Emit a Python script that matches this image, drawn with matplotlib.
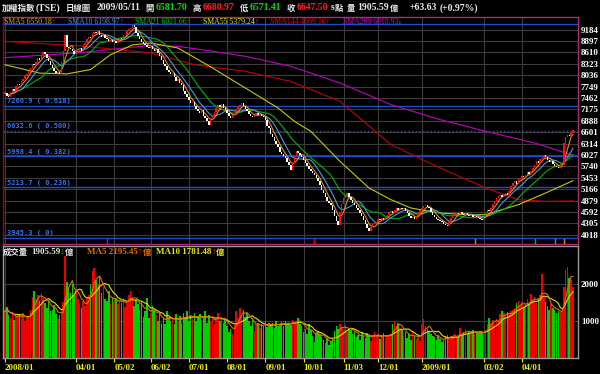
import matplotlib
matplotlib.use("Agg")
import matplotlib.pyplot as plt
import numpy as np
import pandas as pd

# daily closes (TAIEX, late Jan 2008 .. 2009/05/11)
closes = [
    7590, 7521, 7480, 7620, 7700, 7640, 7760, 7810, 7790, 7880,
    7950, 8010, 8080, 8150, 8230, 8300, 8290, 8380, 8470, 8420,
    8540, 8610, 8560, 8480, 8390, 8300, 8220, 8150, 8090, 8130,
    8060, 8380, 8640, 9050, 8760, 8720, 8700, 8640, 8560, 8600,
    8680, 8720, 8650, 8790, 8850, 8960, 9010, 8980, 9080, 9120,
    9100, 9140, 9050, 9010, 9060, 8980, 8950, 8900, 8930, 8870,
    8900, 8850, 8930, 8980, 8950, 9040, 9060, 9140, 9190, 9230,
    9295, 9240, 9100, 9020, 8960, 8880, 8820, 8790, 8740, 8720,
    8770, 8700, 8650, 8690, 8600, 8520, 8410, 8330, 8260, 8180,
    8130, 8060, 8090, 7980, 7900, 7940, 7850, 7790, 7630, 7560,
    7480, 7400, 7330, 7360, 7250, 7190, 7130, 7080, 7150, 7020,
    6950, 6880, 6790, 6960, 7040, 7120, 7200, 7280, 7240, 7310,
    7220, 7150, 7080, 7010, 6960, 7030, 7090, 7190, 7260, 7290,
    7330, 7250, 7180, 7130, 7050, 7000, 6980, 7040, 7080, 7030,
    7060, 7000, 6980, 6900, 6760, 6700, 6560, 6480, 6390, 6300,
    6230, 6110, 6060, 5990, 5950, 5860, 5780, 5640, 5830, 6000,
    6120, 6080, 6035, 5970, 5890, 5820, 5740, 5680, 5615, 5580,
    5530, 5440, 5360, 5280, 5150, 5060, 4960, 4870, 4820, 4775,
    4640, 4500, 4360, 4270, 4600, 4780, 4943, 5000, 5069, 4980,
    4900, 4820, 4775, 4690, 4650, 4560, 4480, 4400, 4300, 4180,
    4110, 4220, 4280, 4300, 4350, 4420, 4380, 4440, 4390, 4460,
    4520, 4580, 4607, 4560, 4640, 4690, 4650, 4700, 4660, 4690,
    4620, 4560, 4500, 4440, 4470, 4420, 4480, 4560, 4650, 4700,
    4740, 4775, 4720, 4690, 4600, 4523, 4470, 4420, 4380, 4355,
    4340, 4300, 4260, 4229, 4330, 4440, 4480, 4530, 4565, 4540,
    4580, 4550, 4520, 4560, 4523, 4490, 4510, 4470, 4500, 4460,
    4440, 4420, 4400, 4460, 4560, 4650, 4620, 4680, 4780, 4860,
    4943, 4990, 5030, 4980, 5050, 5069, 5020, 5130, 5250, 5320,
    5362, 5290, 5420, 5447, 5500, 5460, 5530, 5600, 5560, 5615,
    5700, 5780, 5867, 5830, 5920, 5960, 6035, 5980, 5900, 5850,
    5880, 5800, 5760, 5720, 5690, 5740, 5769, 6320, 6482, 6525,
    6512.6, 6583.87, 6647.50,
]

# daily volume (億)
volumes = [
    1250, 1380, 1150, 1080, 1200, 1020, 1100, 1180,
    1150, 1050, 1220, 1000, 1120, 1080, 1300,
    1650, 1800, 1580, 1700, 1530, 1760, 1620,
    1480, 1350, 1530, 1260, 1300, 1420, 1180,
    1050, 1150, 1250, 1500, 2750,
    2050, 1900, 1750, 1980, 1700, 1850,
    1600, 1450, 1330, 1520, 1400, 1650,
    1700, 2000, 2340, 2430, 2100, 1980, 2200,
    1750, 1900, 1600, 1540, 1800, 1450, 1650,
    1500, 1600, 1440, 1550, 1480, 1620, 1380, 1520,
    1700, 1800, 1650, 1400, 1550,
    1450, 1300, 1530, 1100, 1250, 1620, 1080, 1200,
    1400, 1300,
    1150, 1000, 1200, 950, 1080, 900, 1250, 1100, 980, 1050, 920, 1180, 1000, 1120, 940,
    1200, 1100, 1260, 990, 1150, 1050, 1220, 1000, 1100, 1180, 1030,
    1080, 1260, 950, 1150, 1000, 1120, 900, 1060, 1200, 980, 1100, 940, 1050,
    850, 700, 780, 650, 900,
    1250, 1080, 1350, 1150, 1300, 1100, 1200,
    1000, 850, 1080, 720, 900, 950, 800,
    900, 850, 990, 820, 950, 880, 930, 810, 990, 870, 920, 960, 850, 1000, 900, 950, 880, 1020, 940,
    1000, 1080, 920,
    850, 700, 780, 630, 900, 750, 600, 420, 680, 720, 650,
    550, 480, 400, 520, 350, 450, 500,
    720, 850, 780, 900, 820, 750, 880, 700, 800, 760,
    650, 700, 550, 620, 480, 700, 600, 520, 680, 580, 450,
    620, 700, 560, 640, 500, 600, 680, 540, 620, 580, 650,
    900, 990, 850, 950, 810,
    750, 600, 700, 520, 650, 480, 720, 580, 500, 620, 450,
    900, 1040, 850, 780, 700, 650,
    600, 550, 480, 620, 500,
    420, 480,
    580, 620, 540, 600, 560, 630, 590, 550, 810, 620,
    700, 765, 650, 720, 680, 740, 630, 700, 660, 720, 690, 640, 750,
    900, 1080, 950, 1020, 920, 1050, 980,
    1170, 1260, 1200, 1100, 1230, 1180, 1260, 1300,
    1350, 1480, 1530, 1400, 1500, 1380, 1450,
    1600, 1450, 1710, 1550, 1650, 1480, 1600,
    1700, 2262, 1650, 1500,
    1400, 1300, 1440, 1350, 1280,
    1220, 1250, 1230, 1238, 1900,
    2381.66, 2450, 2150, 2090, 1905.59,
]

# long moving averages, sampled off the chart (bar index, value)
sma55_i = [0, 19, 34, 47, 58, 70, 80, 95, 114, 132, 150, 159, 168, 184, 200, 212, 223, 239, 254, 264, 282, 297, 312]
sma55_v = [8300, 8090, 8070, 8180, 8555, 8800, 8850, 8723, 8219, 7715, 7211, 6875, 6623, 5867, 5195, 4901, 4691, 4565, 4523, 4523, 4775, 5069, 5379]
sma144_i = [0, 40, 80, 104, 132, 157, 184, 212, 239, 264, 282, 297, 312]
sma144_v = [8890, 8780, 8600, 8300, 8135, 7880, 7379, 6287, 5699, 5195, 4901, 4859, 4869]
sma260_i = [0, 40, 80, 95, 114, 132, 157, 184, 212, 239, 264, 291, 312]
sma260_v = [8480, 8600, 8790, 8765, 8640, 8513, 8261, 7841, 7295, 6917, 6623, 6329, 6019]

fib_levels = [3945.3, 5213.7, 5998.4, 6632.6, 7266.9, 9320.1]
fib_labels = ['3945.3 ( 0)', '5213.7 ( 0.236)', '5998.4 ( 0.382)', '6632.6 ( 0.500)', '7266.9 ( 0.618)', '']

price_ticks = [9184, 8897, 8610, 8323, 8036, 7749, 7462, 7175, 6888, 6601,
               6314, 6027, 5740, 5453, 5166, 4879, 4592, 4305, 4018]
vol_ticks = [1000, 2000]

date_idx = [0, 39, 60, 80, 101, 122, 143, 164, 186, 205, 229, 263, 284]
date_lbl = ['2008/01', '04/01', '05/02', '06/02', '07/01', '08/01', '09/01',
            '10/01', '11/03', '12/01', '2009/01', '03/02', '04/01']

signal_idx = [56, 170, 258, 291, 302, 307]
signal_col = ['#c000c0', '#e00000', '#e08000', '#00c000', '#4090e0', '#e08000']

SERIF = ['Liberation Serif', 'Noto Sans CJK TC', 'DejaVu Sans']
CJK = ['Noto Sans CJK TC', 'DejaVu Sans']
W = '#e8e8e8'
GRID = '#3c3c3c'

c = np.array(closes, dtype=float)
o = np.r_[c[0], c[:-1]]
up = c >= o
idx = np.arange(len(c))
v = np.array(volumes, dtype=float)
vidx = np.arange(len(v))

fig = plt.figure(figsize=(6, 3.74), dpi=100, facecolor='black')
ax1 = fig.add_axes([3/600, 1-244/374, 575/600, 227/374], facecolor='black')
ax2 = fig.add_axes([3/600, 1-358/374, 575/600, 112/374], facecolor='black')

# price panel
for ax in (ax1, ax2):
    ax.set_xlim(-1.1, 314.8)
    for x in date_idx:
        ax.axvline(x, color=GRID, lw=0.8, zorder=0)
ax1.set_ylim(3784, 9504)
for p in price_ticks:
    ax1.axhline(p, color=GRID, lw=0.8, zorder=0)
for lv, lb in zip(fib_levels, fib_labels):
    ls = ':' if lb.endswith('0.500)') else '-'
    ax1.axhline(lv, color='#1f4fc8', lw=1.0, ls=ls, zorder=1)
    if lb:
        ax1.text(1, lv + 40, lb, color='#3a70e8', fontsize=5, family='DejaVu Sans Mono',
                 fontweight='bold', va='bottom', ha='left', zorder=2)

ser = pd.Series(c)
ax1.plot(sma260_i, sma260_v, color='#c000c0', lw=0.8, zorder=3)
ax1.plot(sma144_i, sma144_v, color='#c00000', lw=0.8, zorder=3)
ax1.plot(sma55_i, sma55_v, color='#c8c800', lw=0.8, zorder=3)
ax1.plot(idx, ser.rolling(21, min_periods=1).mean(), color='#00b000', lw=0.8, zorder=3)
ax1.plot(idx, ser.rolling(10, min_periods=1).mean(), color='#4a9ad8', lw=0.8, zorder=3)
ax1.plot(idx, ser.rolling(5, min_periods=1).mean(), color='#e08a20', lw=0.8, zorder=3)

body = np.maximum(np.abs(c - o), 22)
ax1.bar(idx, body, bottom=np.minimum(o, c), width=0.8,
        color=np.where(up, '#ff1010', '#ffffff'), linewidth=0, zorder=4)

for i, col in zip(signal_idx, signal_col):
    ax1.plot([i, i], [3800, 3900], color=col, lw=1.0, zorder=5)

# volume panel
ax2.set_ylim(-8, 3019)
for t in vol_ticks:
    ax2.axhline(t, color=GRID, lw=0.8, zorder=0)
vcol = np.where(up[:len(v)], '#f00000', '#00d000')
ax2.bar(vidx, v, width=0.85, color=vcol, linewidth=0, zorder=2)
vs = pd.Series(v)
ax2.plot(vidx, vs.rolling(10, min_periods=1).mean(), color='#e0e000', lw=0.8, zorder=3)
ax2.plot(vidx, vs.rolling(5, min_periods=1).mean(), color='#e07000', lw=0.8, zorder=3)

# axes decoration
for ax, sc in ((ax1, '#a8306e'), (ax2, '#9a9a9a')):
    for s in ax.spines.values():
        s.set_color(sc)
        s.set_linewidth(1.0)
ax1.spines['left'].set_color('#8a1010')
ax1.yaxis.tick_right()
ax1.set_yticks(price_ticks)
ax1.set_yticklabels([str(p) for p in price_ticks])
ax1.tick_params(axis='y', length=0, pad=2, labelsize=6.5, colors='white')
ax1.set_xticks([])
for lab in ax1.get_yticklabels():
    lab.set_family(SERIF)
    lab.set_fontweight('bold')

ax2.yaxis.tick_right()
ax2.set_yticks(vol_ticks)
ax2.set_yticklabels([str(t) for t in vol_ticks])
ax2.tick_params(axis='y', length=0, pad=2, labelsize=6.5, colors='white')
ax2.set_xticks(date_idx)
ax2.set_xticklabels(date_lbl, ha='left')
ax2.tick_params(axis='x', length=3, pad=1, labelsize=6.5, colors='#f0f000', direction='out')
for lab in ax2.get_yticklabels() + ax2.get_xticklabels():
    lab.set_family(SERIF)
    lab.set_fontweight('bold')


def chain(px, py, parts, ax):
    # lay text pieces side by side, each after the previous one
    prev = None
    for s, col, fam, fs, gap in parts:
        if prev is None:
            prev = fig.text(px / 600, 1 - py / 374, s, color=col, family=fam, fontsize=fs,
                            fontweight='bold', va='center', ha='left')
        else:
            prev = ax.annotate(s, xy=(1, 0.5), xycoords=prev, xytext=(gap, 0),
                               textcoords='offset points', color=col, family=fam,
                               fontsize=fs, fontweight='bold', va='center', ha='left',
                               annotation_clip=False)


# title row
NUM, HAN = 7, 6
chain(2, 8, [
    ('加權指數', W, CJK, HAN, 0),
    ('(TSE)', W, SERIF, NUM, 0),
    ('日線圖', W, CJK, HAN, 4),
    ('2009/05/11', W, SERIF, NUM, 4),
    ('開', W, CJK, HAN, 4),
    ('6581.70', '#00e000', SERIF, NUM, 1),
    ('高', W, CJK, HAN, 4),
    ('6680.97', '#ff2020', SERIF, NUM, 1),
    ('低', W, CJK, HAN, 4),
    ('6571.41', '#00e000', SERIF, NUM, 1),
    ('收', W, CJK, HAN, 4),
    ('6647.50', '#ff2020', SERIF, NUM, 1),
    ('s', W, SERIF, NUM, 2),
    ('點', W, CJK, HAN, 0),
    ('量', W, CJK, HAN, 3),
    ('1905.59', W, SERIF, NUM, 1),
    ('億', W, CJK, HAN, 1),
    ('+63.63', W, SERIF, NUM, 8),
    ('(+0.97%)', W, SERIF, NUM, 2),
], ax1)

# moving average legend
legend = [
    (4, 'SMA5 6550.18', '#e0a000', '↑', '#ff2020'),
    (68, 'SMA10 6198.97', '#4a88e0', '↑', '#ff2020'),
    (135, 'SMA21 6021.66', '#00c800', '↑', '#ff2020'),
    (203, 'SMA55 5379.24', '#e8e800', '↑', '#ff2020'),
    (270, 'SMA144 4869.16', '#e80000', '↑', '#ff2020'),
    (343, 'SMA260 6018.93', '#c800c8', '↓', '#00d000'),
]
for x, s, col, arr, acol in legend:
    t = fig.text(x / 600, 1 - 22 / 374, s, color=col, family=SERIF, fontsize=5.6,
                 va='center', ha='left')
    ax1.annotate(arr, xy=(1, 0.5), xycoords=t, color=acol, family=SERIF, fontsize=5.6,
                 fontweight='bold', va='center', ha='left', annotation_clip=False)

# volume legend
chain(3, 252, [
    ('成交量', W, CJK, HAN, 0),
    ('1905.59', W, SERIF, 6.5, 2),
    ('↓', '#00d000', SERIF, 6.5, 0),
    ('億', W, CJK, HAN, 0),
], ax2)
chain(87, 252, [
    ('MA5 2195.45', '#e07000', SERIF, 6.5, 0),
    ('↑', '#ff2020', SERIF, 6.5, 0),
    ('億', '#e07000', CJK, HAN, 0),
], ax2)
chain(156, 252, [
    ('MA10 1781.48', '#e8e800', SERIF, 6.5, 0),
    ('↑', '#ff2020', SERIF, 6.5, 0),
    ('億', '#e8e800', CJK, HAN, 0),
], ax2)

fig.savefig('out.png', dpi=100, facecolor='black')
